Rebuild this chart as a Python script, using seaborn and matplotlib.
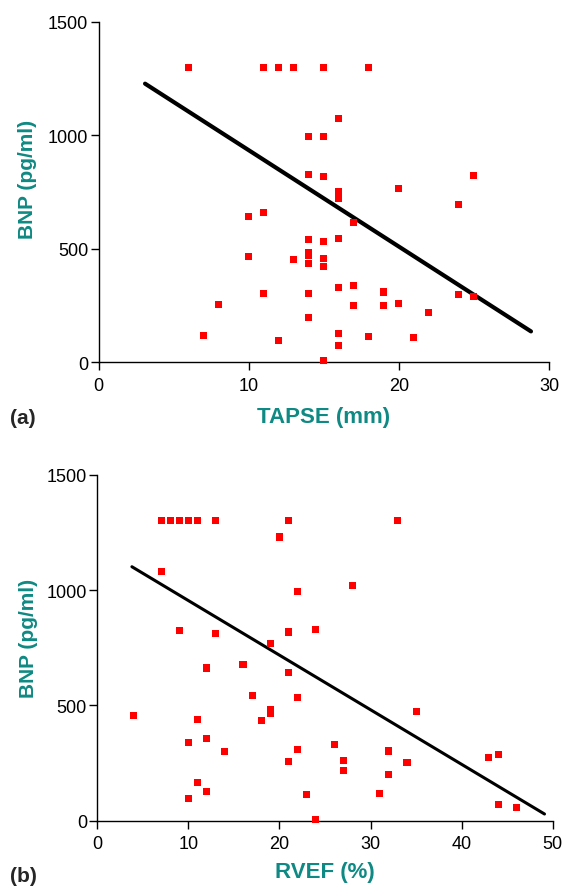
import matplotlib
matplotlib.use("Agg")
import matplotlib.pyplot as plt
import seaborn as sns
import pandas as pd

sns.set_style("ticks")
plt.rcParams['font.family'] = ['Liberation Sans', 'DejaVu Sans']

# Panel (a): TAPSE vs BNP
tapse = [6, 11, 12, 13, 15, 18, 16, 14, 15, 14, 15, 25, 20, 16, 16, 24, 10, 11, 17,
         14, 15, 16, 10, 13, 14, 14, 14, 15, 15, 16, 17, 11, 14, 19, 24, 25, 8, 17,
         19, 20, 22, 14, 7, 12, 16, 16, 18, 21, 15]
bnp_a = [1300, 1300, 1300, 1300, 1300, 1300, 1075, 995, 995, 828, 818, 823, 766, 754,
         722, 694, 641, 660, 616, 540, 531, 546, 466, 453, 484, 472, 434, 456, 420, 330,
         337, 301, 303, 309, 299, 287, 254, 250, 251, 260, 219, 198, 116, 94, 127, 72,
         112, 109, 7]
fit_a_x = [3.1, 28.8]
fit_a_y = [1228, 135]

# Panel (b): RVEF vs BNP
rvef = [7, 8, 9, 10, 11, 13, 21, 33, 20, 7, 22, 28, 9, 13, 21, 24, 19, 12, 16, 21,
        17, 22, 19, 19, 4, 11, 18, 35, 10, 12, 14, 22, 26, 21, 27, 27, 32, 34, 32, 43,
        44, 11, 12, 10, 23, 31, 44, 46, 24]
bnp_b = [1300, 1300, 1300, 1300, 1300, 1300, 1300, 1300, 1230, 1079, 995, 1019, 824,
         811, 818, 828, 769, 662, 679, 643, 542, 533, 484, 467, 457, 438, 433, 472, 338,
         357, 299, 308, 329, 256, 260, 218, 302, 251, 199, 273, 286, 166, 126, 95, 113,
         117, 72, 58, 7]
fit_b_x = [3.8, 49.1]
fit_b_y = [1101, 29]

teal = "#0f8983"
W, H = 564, 887
fig = plt.figure(figsize=(W / 100, H / 100), dpi=100)

def box(l, r, t, b):
    return [l / W, 1 - b / H, (r - l) / W, (b - t) / H]

ax1 = fig.add_axes(box(98.5, 549, 23, 363))
ax2 = fig.add_axes(box(97.3, 552.7, 475.7, 821.7))

df_a = pd.DataFrame({"x": tapse, "y": bnp_a})
df_b = pd.DataFrame({"x": rvef, "y": bnp_b})

sns.scatterplot(data=df_a, x="x", y="y", ax=ax1, marker="s", s=26, color="#ff0000",
                edgecolor="none", zorder=3)
sns.lineplot(x=fit_a_x, y=fit_a_y, ax=ax1, color="black", linewidth=3.0, zorder=2)

sns.scatterplot(data=df_b, x="x", y="y", ax=ax2, marker="s", s=26, color="#ff0000",
                edgecolor="none", zorder=3)
sns.lineplot(x=fit_b_x, y=fit_b_y, ax=ax2, color="black", linewidth=2.2, zorder=2)

settings = [
    (ax1, 30, [0, 10, 20, 30], "TAPSE (mm)", -0.159, -0.1565, 0.54),
    (ax2, 50, [0, 10, 20, 30, 40, 50], "RVEF (%)", -0.148, -0.150, 0.531),
]
for ax, xmax, xt, xl, xly, ylx, yly in settings:
    ax.set_xlim(0, xmax)
    ax.set_ylim(0, 1500)
    ax.set_xticks(xt)
    ax.set_yticks([0, 500, 1000, 1500])
    for s in ["top", "right"]:
        ax.spines[s].set_visible(False)
    for s in ["left", "bottom"]:
        ax.spines[s].set_linewidth(1.0)
        ax.spines[s].set_color("black")
    ax.tick_params(direction="out", length=5.5, width=1.0, labelsize=13,
                   colors="black")
    ax.tick_params(axis="x", pad=5)
    ax.tick_params(axis="y", pad=2)
    ax.set_xlabel(xl, fontsize=16, fontweight="bold", color=teal)
    ax.set_ylabel("BNP (pg/ml)", fontsize=15, fontweight="bold", color=teal)
    ax.xaxis.label.set_va("center")
    ax.xaxis.set_label_coords(0.5, xly)
    ax.yaxis.label.set_va("center")
    ax.yaxis.set_label_coords(ylx, yly)
    for c in ax.collections:
        c.set_clip_on(False)

fig.text(10 / W, 1 - 418 / H, "(a)", fontsize=15, fontweight="bold", va="center", ha="left")
fig.text(10 / W, 1 - 877 / H, "(b)", fontsize=15, fontweight="bold", va="center", ha="left")

fig.savefig("out.png", dpi=100)
